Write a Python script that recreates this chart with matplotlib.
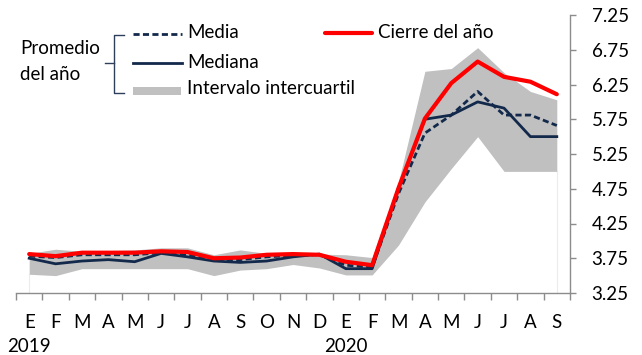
import matplotlib
matplotlib.use("Agg")
import matplotlib.pyplot as plt
from matplotlib.lines import Line2D
from matplotlib.patches import Rectangle
import numpy as np

plt.rcParams['font.family'] = ['Lato', 'DejaVu Sans']

# Monthly survey of expectations for the policy rate (%)
months = ["E", "F", "M", "A", "M", "J", "J", "A", "S", "O", "N", "D",
          "E", "F", "M", "A", "M", "J", "J", "A", "S"]
years = ["2019", "2020"]
year_start = [0, 12]

cierre = [3.81, 3.78, 3.83, 3.83, 3.83, 3.85, 3.84, 3.75, 3.76, 3.80, 3.81, 3.80,
          3.70, 3.65, 4.76, 5.76, 6.27, 6.58, 6.36, 6.29, 6.11]
media = [3.78, 3.76, 3.80, 3.80, 3.80, 3.83, 3.80, 3.73, 3.73, 3.77, 3.79, 3.80,
         3.65, 3.62, 4.68, 5.55, 5.81, 6.15, 5.81, 5.81, 5.66]
mediana = [3.75, 3.67, 3.71, 3.73, 3.70, 3.82, 3.77, 3.71, 3.69, 3.71, 3.77, 3.81,
           3.60, 3.60, 4.76, 5.75, 5.81, 6.00, 5.91, 5.50, 5.50]
q_sup = [3.82, 3.88, 3.85, 3.86, 3.87, 3.90, 3.90, 3.80, 3.87, 3.82, 3.83, 3.81,
         3.80, 3.76, 4.85, 6.44, 6.48, 6.78, 6.42, 6.15, 6.03]
q_inf = [3.52, 3.50, 3.60, 3.60, 3.60, 3.60, 3.60, 3.50, 3.58, 3.60, 3.66, 3.61,
         3.51, 3.51, 3.94, 4.56, 5.04, 5.50, 5.00, 5.00, 5.00]

yticks = [3.25, 3.75, 4.25, 4.75, 5.25, 5.75, 6.25, 6.75, 7.25]

NAVY = "#13294b"
RED = "#ff0000"
GRAY = "#c0c0c0"
AXIS = "#8c8c8c"
FS = 13.5

W, H = 642, 355
fig = plt.figure(figsize=(W / 100, H / 100), dpi=100)
ax = fig.add_axes([16 / W, 1 - 293 / H, (570 - 16) / W, (293 - 15) / H])

x = np.arange(len(months))
ax.fill_between(x, q_inf, q_sup, color=GRAY, lw=0, zorder=1)
# faint drop lines at the ends of the band
for i in (0, len(x) - 1):
    ax.plot([x[i], x[i]], [3.25, q_inf[i]], color="#ececec", lw=0.8, zorder=0.5)
ax.plot(x, media, color=NAVY, lw=2.0, ls=(0, (2.2, 1.2)), zorder=2)
ax.plot(x, mediana, color=NAVY, lw=2.0, zorder=3)
ax.plot(x, cierre, color=RED, lw=3.0, zorder=4, solid_capstyle="round")

ax.set_xlim(-0.5, len(x) - 0.5)
ax.set_ylim(3.25, 7.25)

for s in ("top", "left"):
    ax.spines[s].set_visible(False)
for s in ("right", "bottom"):
    ax.spines[s].set_color(AXIS)
    ax.spines[s].set_linewidth(1.0)

ax.yaxis.tick_right()
ax.set_yticks(yticks)
ax.set_yticklabels([f"{v:.2f}" for v in yticks])
ax.tick_params(axis="y", direction="out", length=4, width=1.0, color=AXIS,
               pad=11.5, labelsize=FS, labelcolor="#000000")

ax.set_xticks(np.arange(-0.5, len(x) + 0.5, 1.0))
ax.set_xticklabels([])
ax.tick_params(axis="x", direction="out", length=5, width=1.0, color=AXIS)

for i, m in enumerate(months):
    ax.annotate(m, (i, 0), xycoords=("data", "axes fraction"),
                xytext=(0, -29), textcoords="offset pixels",
                ha="center", va="center", fontsize=FS)
for y, s in zip(years, year_start):
    ax.annotate(y, (s, 0), xycoords=("data", "axes fraction"),
                xytext=(0, -54), textcoords="offset pixels",
                ha="center", va="center", fontsize=FS)

# Legend drawn in pixel coordinates
ov = fig.add_axes([0, 0, 1, 1], zorder=10)
ov.set_xlim(0, W)
ov.set_ylim(H, 0)
ov.axis("off")
ov.patch.set_alpha(0)

ov.text(20, 48, "Promedio", ha="left", va="center", fontsize=FS)
ov.text(20, 75, "del año", ha="left", va="center", fontsize=FS)

brace_col = "#2e3f5c"
ov.add_line(Line2D([124, 114, 114, 124], [35, 35, 93, 93], color=brace_col, lw=1.0))
ov.add_line(Line2D([105, 114], [63, 63], color=brace_col, lw=1.0))

ov.add_line(Line2D([133, 182], [34, 34], color=NAVY, lw=2.0, ls=(0, (2.2, 1.2))))
ov.text(187, 33, "Media", ha="left", va="center", fontsize=FS)
ov.add_line(Line2D([133, 182], [63, 63], color=NAVY, lw=2.0))
ov.text(187, 63, "Mediana", ha="left", va="center", fontsize=FS)
ov.add_patch(Rectangle((133, 87), 48, 8, color=GRAY, lw=0))
ov.text(187, 89, "Intervalo intercuartil", ha="left", va="center", fontsize=FS)
ov.add_line(Line2D([325, 372], [33, 33], color=RED, lw=3.0, solid_capstyle="round"))
ov.text(378, 33, "Cierre del año", ha="left", va="center", fontsize=FS)

fig.savefig("out.png", dpi=100)
